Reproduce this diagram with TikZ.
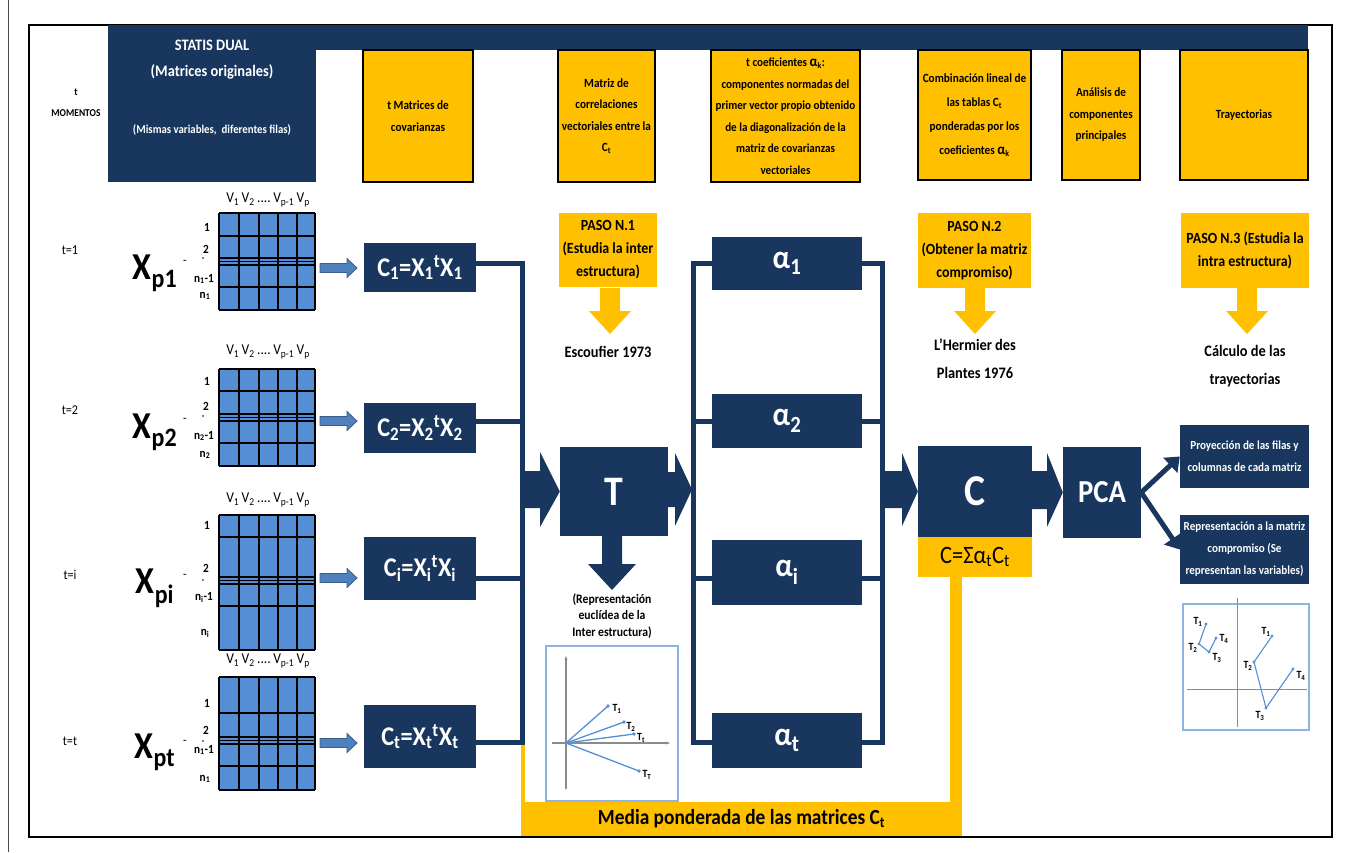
\documentclass[tikz,border=0pt]{standalone}
\usepackage{fontspec}
\setmainfont{Carlito}[FakeStretch=0.9]
\usetikzlibrary{arrows.meta}
\definecolor{navy}{RGB}{24,54,94}
\definecolor{gold}{RGB}{255,192,0}
\definecolor{cellblue}{RGB}{85,142,213}
\definecolor{arrblue}{RGB}{79,129,189}
\definecolor{arredge}{RGB}{56,93,138}
\definecolor{plotblue}{RGB}{142,180,227}
\definecolor{vecblue}{RGB}{85,142,213}
\definecolor{axgray}{RGB}{140,140,140}
\newcommand\fs[2]{\fontsize{#1}{#2}\selectfont}
\newcommand\mysub[1]{\textsubscript{#1}}
\newcommand\mysup[1]{\textsuperscript{#1}}
\begin{document}
\begin{tikzpicture}[x=1pt,y=-1pt,
  navybox/.style={fill=navy,text=white,inner sep=0pt,align=center},
  hdrbox/.style={fill=gold,draw=black,line width=1.6pt,align=center,inner sep=1pt,font=\bfseries\fs{12.5}{21.5}},
  pasobox/.style={fill=gold,align=center,inner sep=1pt,font=\bfseries\fs{15.5}{23}},
  caption/.style={align=center,font=\bfseries\fs{16}{28}},
  bar/.style={navy,line width=5pt},
  gridline/.style={black,line width=1.1pt},
  rowlab/.style={font=\bfseries\fs{12.5}{12},inner sep=0pt},
  tlab/.style={font=\fs{13.5}{13},inner sep=0pt},
  vhead/.style={font=\fs{15}{15},inner sep=0pt},
  xlab/.style={font=\bfseries\fs{38}{38},inner sep=0pt,anchor=base},
  eqbox/.style={navybox,minimum width=112pt,font=\bfseries\fs{27}{27}},
  alphabox/.style={navybox,minimum width=150pt,font=\bfseries\fs{33}{33}},
  outbox/.style={navybox,minimum width=129pt,font=\bfseries\fs{12.3}{22}},
  plotframe/.style={draw=plotblue,line width=2pt},
  axis/.style={axgray,line width=1.2pt},
  vec/.style={vecblue,line width=1.3pt},
  ptlab/.style={font=\bfseries\fs{11}{11},inner sep=0pt},
  pcaarrow/.style={navy,line width=5pt,-{Triangle[length=13pt,width=20pt]}}
]
\useasboundingbox (0,0) rectangle (1357,852);
% frames
\draw[black!70,line width=0.8pt] (8,0) -- (8,852);
\draw[black,line width=2.5pt] (29,25) rectangle (1332,837);
% header band
\fill[navy] (108,25) rectangle (1308,50);
\node[navybox,minimum width=208pt,minimum height=157pt] (statis) at (212,103.5) {};
\node[text=white,font=\bfseries\fs{16}{16}] (st1) at (212,45) {STATIS DUAL};
\node[text=white,font=\bfseries\fs{16}{16}] (st2) at (212,72) {(Matrices originales)};
\node[text=white,font=\bfseries\fs{12}{12}] (st3) at (212,130) {(Mismas variables,\ \ diferentes filas)};
\node[align=center,font=\bfseries\fs{10.5}{21}] (mom) at (76,103) {t\\MOMENTOS};
% header boxes
\node[hdrbox,minimum width=110pt,minimum height=132pt] (h1) at (418,116) {t Matrices de\\covarianzas};
\node[hdrbox,minimum width=97pt,minimum height=132pt] (h2) at (606.5,116) {Matriz de\\correlaciones\\vectoriales entre la\\C\mysub{t}};
\node[hdrbox,minimum width=149pt,minimum height=132pt,font=\bfseries\fs{12.3}{21.5}] (h3) at (785.5,116) {t coeficientes {\fs{15}{15}α}\mysub{k}:\\componentes normadas del\\primer vector propio obtenido\\de la diagonalización de la\\matriz de covarianzas\\vectoriales};
\node[hdrbox,minimum width=113pt,minimum height=130pt,font=\bfseries\fs{12.5}{24}] (h4) at (974.5,115) {Combinación lineal de\\las tablas C\mysub{t}\\ponderadas por los\\coeficientes {\fs{15}{15}α}\mysub{k}};
\node[hdrbox,minimum width=78pt,minimum height=130pt] (h5) at (1101,115) {Análisis de\\componentes\\principales};
\node[hdrbox,minimum width=128pt,minimum height=130pt] (h6) at (1244,115) {Trayectorias};
% time labels
\node[tlab] (t1) at (70,250) {t=1};
\node[tlab] (t2) at (70,410) {t=2};
\node[tlab] (t3) at (70,575) {t=i};
\node[tlab] (t4) at (70,741) {t=t};
% matrices
\newcommand\mgrid[3]{%
  \fill[cellblue] (219,#1) rectangle (315,#2);
  \foreach \xx in {219,239,259,278,297,315} \draw[gridline] (\xx,#1) -- (\xx,#2);
  \foreach \yy in {#3} \draw[gridline] (219,\yy) -- (315,\yy);}
\mgrid{213}{310}{213,236,258,261.5,265,287,310}
\mgrid{369}{466}{369,391,414,417.5,421,443,466}
\mgrid{515}{650}{515,537,577,580.5,584,606,650}
\mgrid{677}{790}{677,713,737,740.5,744,766,790}
% V headers
\foreach \yy/\nm in {200/v1,352/v2,500/v3,661/v4}
  \node[vhead] (\nm) at (268,\yy) {V\mysub{1}\,V\mysub{2}\,....\,V\mysub{p-1}\,V\mysub{p}};
% row labels
\node[rowlab] at (207,227) {1};
\node[rowlab] at (206,249) {2};
\node[rowlab] at (204,279) {n\mysub{1}-1};
\node[rowlab] at (205,296) {n\mysub{1}};
\node[rowlab] at (207,381) {1};
\node[rowlab] at (206,406) {2};
\node[rowlab] at (204,436) {n\mysub{2}-1};
\node[rowlab] at (205,455) {n\mysub{2}};
\node[rowlab] at (207,525) {1};
\node[rowlab] at (206,568) {2};
\node[rowlab] at (204,597) {n\mysub{i}-1};
\node[rowlab] at (205,633) {n\mysub{i}};
\node[rowlab] at (207,703) {1};
\node[rowlab] at (206,730) {2};
\node[rowlab] at (204,750) {n\mysub{1}-1};
\node[rowlab] at (205,779) {n\mysub{1}};
\foreach \yy in {258,416,580,741} \fill (203,\yy) circle (0.8pt);
% X labels
\node[xlab] (x1) at (155,279) {X\mysub{p1}};
\node[xlab] (x2) at (155,438) {X\mysub{p2}};
\node[xlab] (x3) at (155,593) {X\mysub{pi}};
\node[xlab] (x4) at (155,758) {X\mysub{pt}};
\foreach \yy in {262,420,576,742} \node[font=\fs{13}{13},inner sep=0pt] at (185,\yy) {-};
% outline arrows
\foreach \yc in {268,421,578,743}
  \filldraw[fill=arrblue,draw=arredge,line width=0.8pt] (320,\yc-4.5) -- (347,\yc-4.5) -- (347,\yc-9.5) -- (357,\yc) -- (347,\yc+9.5) -- (347,\yc+4.5) -- (320,\yc+4.5) -- cycle;
% C boxes
\node[eqbox,minimum height=49pt] (c1) at (420,267.5) {C\mysub{1}=X\mysub{1}\mysup{t}X\mysub{1}};
\node[eqbox,minimum height=50pt] (c2) at (420,428) {C\mysub{2}=X\mysub{2}\mysup{t}X\mysub{2}};
\node[eqbox,minimum height=63pt] (c3) at (420,568.5) {C\mysub{i}=X\mysub{i}\mysup{t}X\mysub{i}};
\node[eqbox,minimum height=63pt] (c4) at (420,736.5) {C\mysub{t}=X\mysub{t}\mysup{t}X\mysub{t}};
% alpha boxes
\node[alphabox,minimum height=53pt] (a1) at (787,263.5) {α\mysub{1}};
\node[alphabox,minimum height=54pt] (a2) at (787,421) {α\mysub{2}};
\node[alphabox,minimum height=65pt] (a3) at (787,572.5) {α\mysub{i}};
\node[alphabox,minimum height=55pt] (a4) at (787,740.5) {α\mysub{t}};
% bracket coordinates
\coordinate (L1) at (522,263); \coordinate (L2) at (522,421); \coordinate (L3) at (522,578); \coordinate (L4) at (522,742);
\coordinate (M1) at (693,263); \coordinate (M2) at (693,421); \coordinate (M3) at (693,578); \coordinate (M4) at (693,742);
\coordinate (R1) at (882,263); \coordinate (R2) at (882,421); \coordinate (R3) at (882,578); \coordinate (R4) at (882,742);
% gold U (behind)
\fill[gold] (521,742) rectangle (525,802);
\fill[gold] (950,577) rectangle (962,802);
\node[fill=gold,minimum width=441pt,minimum height=34pt,inner sep=0pt,font=\bfseries\fs{21.5}{21}] (media) at (741.5,819) {Media ponderada de las matrices C\mysub{t}};
% brackets
\foreach \i in {1,2,3,4} \draw[bar] (c\i.east |- L\i) -- (L\i);
\draw[bar,line cap=rect] (L1) -- (L4);
\foreach \i in {1,2,3,4} \draw[bar] (M\i) -- (a\i.west |- M\i);
\draw[bar,line cap=rect] (M1) -- (M4);
\foreach \i in {1,2,3,4} \draw[bar] (a\i.east |- R\i) -- (R\i);
\draw[bar,line cap=rect] (R1) -- (R4);
% T box
\node[navybox,minimum width=108pt,minimum height=89pt,font=\bfseries\fs{42}{42}] (T) at (614,491.5) {T};
% C box
\node[navybox,minimum width=114pt,minimum height=91pt,font=\bfseries\fs{44}{44}] (C) at (975,491.5) {C};
\node[fill=gold,minimum width=114pt,minimum height=40pt,inner sep=0pt,font=\fs{25}{25}] (ceq) at (975,557) {C=Σα\mysub{t}C\mysub{t}};
% PCA
\node[navybox,minimum width=78pt,minimum height=91pt,font=\bfseries\fs{32}{32}] (pca) at (1102,492.5) {PCA};
% chevron arrows
\fill[navy] (522,471) -- (540,471) -- (540,452) -- (T.west) -- (540,527) -- (540,508) -- (522,508) -- cycle;
\fill[navy] (T.east |- 0,472) -- (675,472) -- (675,453) -- (692,489.5) -- (675,526) -- (675,507) -- (T.east |- 0,507) -- cycle;
\fill[navy] (882,471) -- (902,471) -- (902,453) -- (C.west) -- (902,526) -- (902,508) -- (882,508) -- cycle;
\fill[navy] (C.east |- 0,471) -- (1047,471) -- (1047,453) -- (pca.west) -- (1047,527) -- (1047,509) -- (C.east |- 0,509) -- cycle;
\fill[navy] (602,536) -- (622,536) -- (622,564) -- (636,564) -- (612,590) -- (588,564) -- (602,564) -- cycle;
% output boxes
\node[outbox,minimum height=63pt] (p1) at (1244.5,456.5) {Proyección de las filas y\\columnas de cada matriz};
\node[outbox,minimum height=69pt] (p2) at (1244.5,549.5) {Representación a la matriz\\compromiso (Se\\representan las variables)};
\draw[pcaarrow] (pca.east) -- (p1.west);
\draw[pcaarrow] (pca.east) -- (p2.west);
% PASO boxes
\node[pasobox,minimum width=98pt,minimum height=74pt] (s1) at (608,250) {PASO N.1\\(Estudia la inter\\estructura)};
\node[pasobox,minimum width=113pt,minimum height=75pt] (s2) at (974.5,250.5) {PASO N.2\\(Obtener la matriz\\compromiso)};
\node[pasobox,minimum width=128pt,minimum height=75pt] (s3) at (1245,250.5) {PASO N.3 (Estudia la\\intra estructura)};
\foreach \cx/\nm in {610/s1,975/s2,1247/s3}
  \fill[gold] (\cx-10,288) -- (\cx+10,288) -- (\cx+10,311) -- (\cx+21,311) -- (\cx,334) -- (\cx-21,311) -- (\cx-10,311) -- cycle;
\node[caption] (e1) at (608,352) {Escoufier 1973};
\node[caption] (e2) at (975,359) {L'Hermier des\\Plantes 1976};
\node[caption] (e3) at (1245,366) {Cálculo de las\\trayectorias};
% T inset plot
\node[align=center,font=\bfseries\fs{13}{16.5}] (rep) at (612,616) {(Representación\\euclídea de la\\Inter estructura)};
\node[plotframe,minimum width=132pt,minimum height=155pt,inner sep=0pt] (tplot) at (612,723.5) {};
\coordinate (O) at (566,743);
\draw[axis,-{Stealth[length=4pt,width=3pt]}] (566,789) -- (566,656);
\draw[axis,-{Stealth[length=4pt,width=3pt]}] (552,743) -- (670,743);
\foreach \px/\py/\nm/\lx/\ly/\tx in {608/706/q1/617/709/1,624/722/q2/631/727/2,634/734/q3/641/738/t,639/771/q4/647/775/T}{
  \coordinate (\nm) at (\px,\py);
  \draw[vec] (O) -- (\nm);
  \fill[vecblue] (\nm) circle (1.8pt);
  \node[ptlab] at (\lx,\ly) {T\mysub{\tx}};}
% right inset plot
\node[plotframe,minimum width=126pt,minimum height=126pt,inner sep=0pt] (rplot) at (1246,667) {};
\draw[axis,line width=1pt] (1237,598) -- (1237,727);
\draw[axis,line width=1pt] (1187,689) -- (1307,689);
\coordinate (a1p) at (1206,624); \coordinate (a2p) at (1199,644); \coordinate (a3p) at (1209,652); \coordinate (a4p) at (1216,638);
\coordinate (b1p) at (1272,636); \coordinate (b2p) at (1254,662); \coordinate (b3p) at (1266,708); \coordinate (b4p) at (1293,669);
\draw[vec,line width=1.1pt] (a1p) -- (a2p) -- (a3p) -- (a4p);
\draw[vec,line width=1.1pt] (b1p) -- (b2p) -- (b3p) -- (b4p);
\foreach \p in {a1p,a2p,a3p,a4p,b1p,b2p,b3p,b4p} \fill[vecblue] (\p) circle (1.6pt);
\node[ptlab] at (1198,622) {T\mysub{1}};
\node[ptlab] at (1193,648) {T\mysub{2}};
\node[ptlab] at (1217,658) {T\mysub{3}};
\node[ptlab] at (1224,639) {T\mysub{4}};
\node[ptlab] at (1266,632) {T\mysub{1}};
\node[ptlab] at (1248,666) {T\mysub{2}};
\node[ptlab] at (1260,716) {T\mysub{3}};
\node[ptlab] at (1301,676) {T\mysub{4}};
\end{tikzpicture}
\end{document}
